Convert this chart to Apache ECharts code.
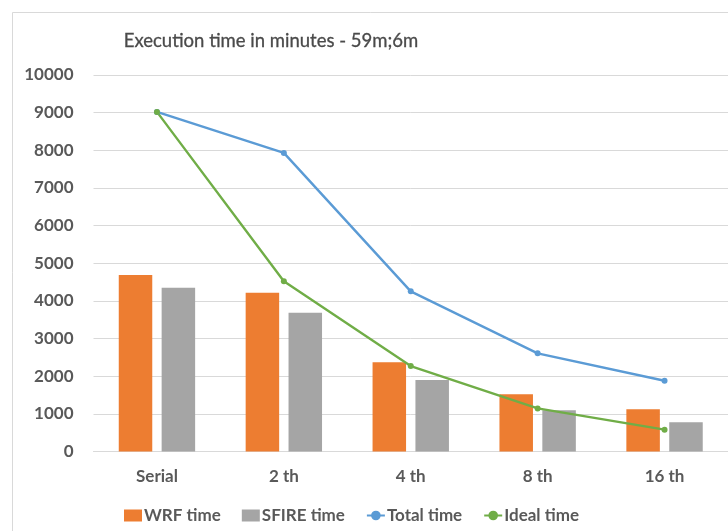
<!DOCTYPE html>
<html>
<head>
<meta charset="utf-8">
<script src="https://cdn.jsdelivr.net/npm/echarts@6/dist/echarts.min.js"></script>
<style>
  html, body { margin: 0; padding: 0; background: #ffffff; }
  #chart { width: 728px; height: 531px; }
</style>
</head>
<body>
<div id="chart"></div>
<script>
// Run configurations along the x axis
const categories = ['Serial', '2 th', '4 th', '8 th', '16 th'];
// Execution times (minutes)
const wrfTime = [4686, 4216, 2368, 1518, 1120];
const sfireTime = [4349, 3685, 1898, 1094, 775];
const totalTime = [9020, 7930, 4253, 2607, 1880];
const idealTime = [9020, 4520, 2270, 1145, 580];
// Value axis ticks
const yMin = 0, yMax = 10000, yStep = 1000;

const FONT = 'Lato, "Open Sans", sans-serif';
const TEXT = '#595959';

const chart = echarts.init(document.getElementById('chart'), null, { renderer: 'canvas' });

chart.setOption({
  backgroundColor: '#ffffff',
  animation: false,
  graphic: [{
    type: 'rect',
    shape: { x: 12.5, y: 12.5, width: 740, height: 540 },
    style: { fill: 'none', stroke: '#d9d9d9', lineWidth: 1 },
    silent: true, z: -1
  }],
  title: {
    text: 'Execution time in minutes - 59m;6m',
    left: 266, top: 27, textAlign: 'center',
    textStyle: { fontFamily: FONT, fontSize: 18.5, fontWeight: 'normal', color: '#4a4a4a',
      textBorderColor: '#4a4a4a', textBorderWidth: 0.3 }
  },
  grid: { left: 93.5, right: 0, top: 75, bottom: 79.5, containLabel: false },
  legend: {
    bottom: 2, left: 119,
    itemGap: 21, itemWidth: 18, itemHeight: 12,
    textStyle: { fontFamily: FONT, fontSize: 17, fontWeight: 'bold', color: TEXT, padding: [0, 0, 0, -3] },
    data: [
      { name: 'WRF time', icon: 'rect' },
      { name: 'SFIRE time', icon: 'rect' },
      { name: 'Total time' },
      { name: 'Ideal time' }
    ]
  },
  xAxis: {
    type: 'category',
    data: categories,
    axisLine: { lineStyle: { color: '#d9d9d9' } },
    axisTick: { show: false },
    axisLabel: { fontFamily: FONT, fontSize: 17, fontWeight: 'bold', color: TEXT, margin: 17 }
  },
  yAxis: {
    type: 'value',
    min: yMin, max: yMax, interval: yStep,
    axisLine: { show: false },
    axisTick: { show: false },
    splitLine: { lineStyle: { color: '#d9d9d9', width: 1 } },
    axisLabel: {
      fontFamily: FONT, fontSize: 17, fontWeight: 'bold', color: TEXT, margin: 20,
      formatter: v => String(v)
    }
  },
  series: [
    {
      name: 'WRF time', type: 'bar', data: wrfTime,
      barWidth: 33.5, barGap: '28%',
      itemStyle: { color: '#ed7d31' }
    },
    {
      name: 'SFIRE time', type: 'bar', data: sfireTime,
      barWidth: 33.5,
      itemStyle: { color: '#a5a5a5' }
    },
    {
      name: 'Total time', type: 'line', data: totalTime,
      symbol: 'circle', symbolSize: 6,
      lineStyle: { color: '#5b9bd5', width: 2.4 },
      itemStyle: { color: '#5b9bd5' }
    },
    {
      name: 'Ideal time', type: 'line', data: idealTime,
      symbol: 'circle', symbolSize: 6,
      lineStyle: { color: '#70ad47', width: 2.4 },
      itemStyle: { color: '#70ad47' }
    }
  ]
});
</script>
</body>
</html>
